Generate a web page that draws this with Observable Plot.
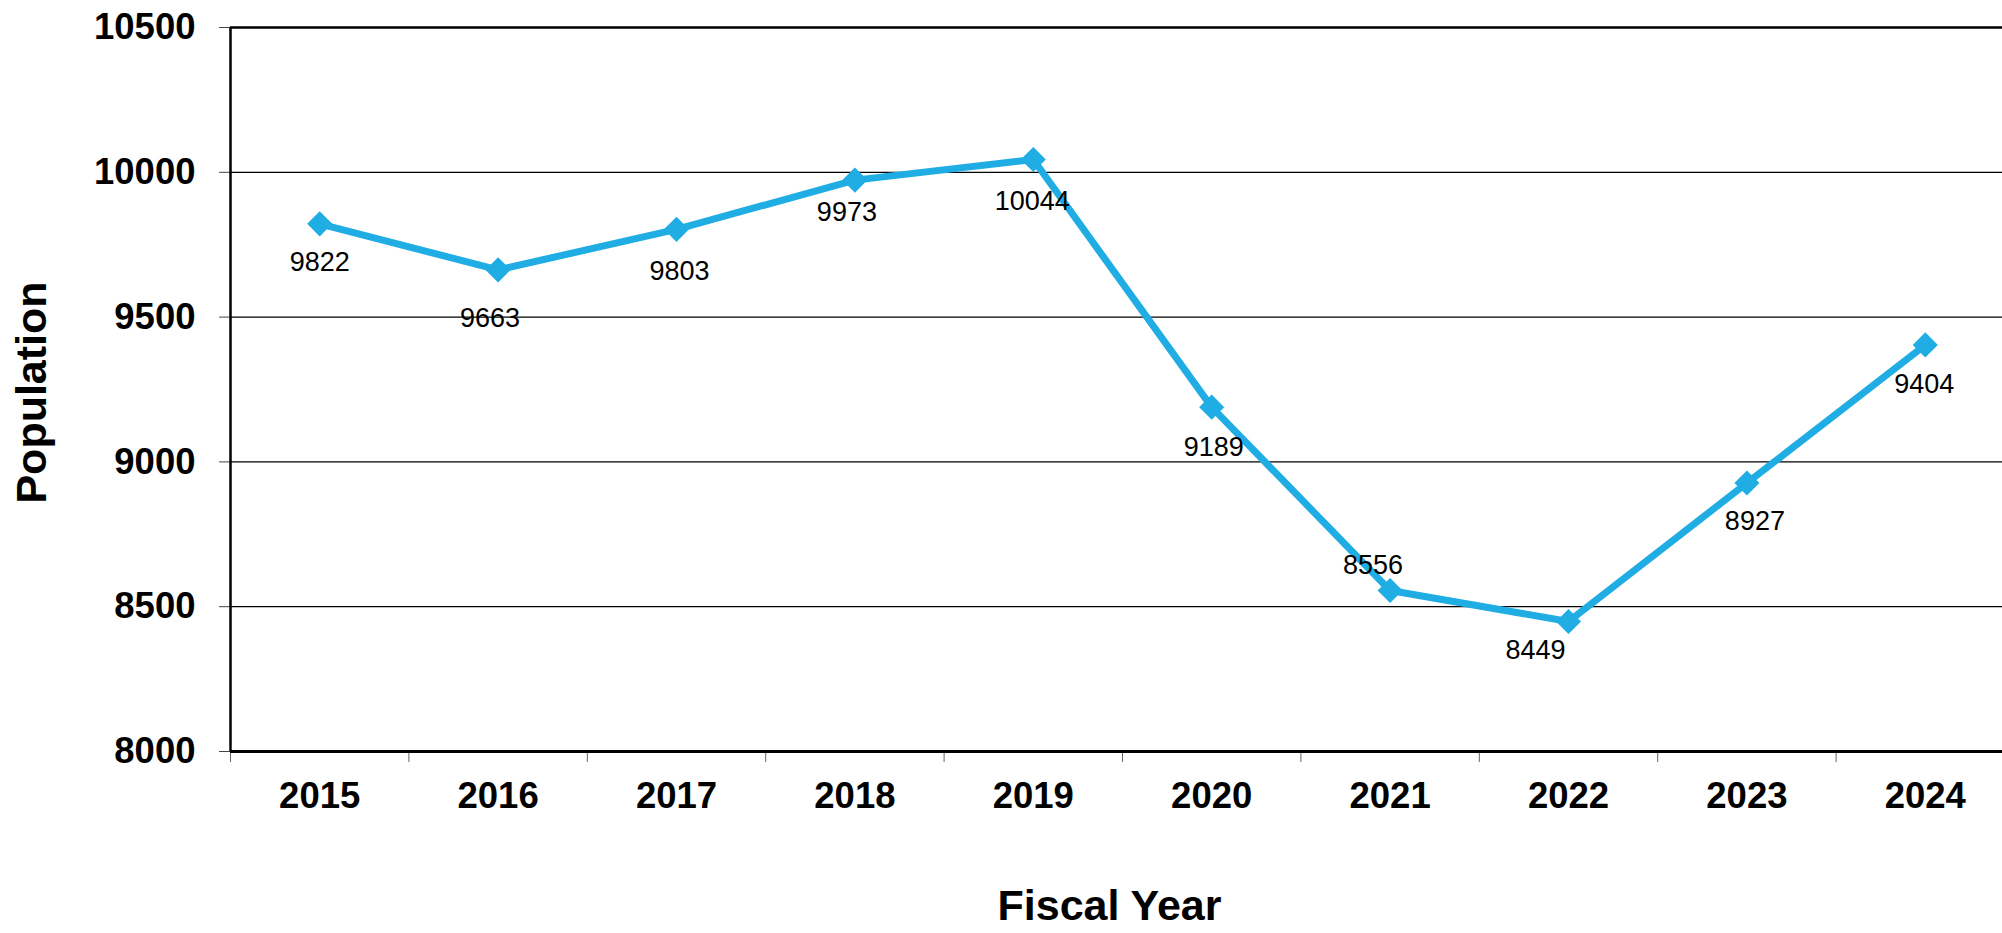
<!DOCTYPE html>
<html>
<head>
<meta charset="utf-8">
<script src="https://cdn.jsdelivr.net/npm/d3@7"></script>
<script src="https://cdn.jsdelivr.net/npm/@observablehq/plot@0.6"></script>
<style>
  html, body { margin: 0; padding: 0; background: #fff; }
  #chart svg { display: block; }
</style>
</head>
<body>
<div id="chart"></div>
<script>
// ---- Data ----
const years = [2015, 2016, 2017, 2018, 2019, 2020, 2021, 2022, 2023, 2024];
const population = [9822, 9663, 9803, 9973, 10044, 9189, 8556, 8449, 8927, 9404];
const yTicks = [8000, 8500, 9000, 9500, 10000, 10500];
// label offsets (pixels) relative to each point
const labelDx = [0, -8, 3, -8, -1, 2, -17, -33, 8, -1];
const labelDy = [39, 48, 42, 32, 42, 40, -25, 29, 38, 39];

const data = years.map((year, i) => ({year, value: population[i]}));
const boundaries = [years[0] - 0.5, ...years.map(y => y + 0.5)];
const lineColor = "#1FADE4";

const labelMarks = data.map((d, i) =>
  Plot.text([d], {
    x: "year", y: "value", text: d => String(d.value),
    dx: labelDx[i], dy: labelDy[i],
    fontSize: 27, fill: "#000"
  })
);

const chart = Plot.plot({
  width: 2002,
  height: 933,
  marginLeft: 230,
  marginRight: 0,
  marginTop: 27,
  marginBottom: 182,
  style: {fontFamily: "'Liberation Sans', Arial, sans-serif", background: "#fff", color: "#000"},
  x: {type: "linear", domain: [years[0] - 0.5, years[years.length - 1] + 0.5], range: [230, 2014]},
  y: {domain: [yTicks[0], yTicks[yTicks.length - 1]]},
  marks: [
    Plot.ruleY(yTicks.slice(1, -1), {stroke: "#000", strokeWidth: 1.2}),
    Plot.ruleY([yTicks[yTicks.length - 1]], {stroke: "#000", strokeWidth: 2.5}),
    Plot.axisY({ticks: yTicks, tickSize: 11, tickPadding: 24, tickFormat: d => String(d),
      fontSize: 36.5, fontWeight: "bold", stroke: "#444", label: null}),
    Plot.axisX({ticks: boundaries, tickSize: 11, tickFormat: () => "", stroke: "#666", label: null}),
    Plot.axisX({ticks: years, tickSize: 0, tickPadding: 31, tickFormat: d => String(d),
      fontSize: 36.5, fontWeight: "bold", label: null}),
    Plot.ruleY([yTicks[0]], {stroke: "#000", strokeWidth: 3}),
    Plot.ruleX([boundaries[0]], {stroke: "#000", strokeWidth: 2.5}),
    Plot.line(data, {x: "year", y: "value", stroke: lineColor, strokeWidth: 7, strokeLinejoin: "miter"}),
    Plot.dot(data, {x: "year", y: "value", symbol: "diamond2", r: 11.3, fill: lineColor, stroke: "none"}),
    ...labelMarks,
    Plot.text(["Fiscal Year"], {frameAnchor: "bottom", lineAnchor: "top", textAnchor: "middle", dx: -7, dy: 138,
      fontSize: 43, fontWeight: "bold", fill: "#000"}),
    Plot.text(["Population"], {frameAnchor: "left", rotate: -90, textAnchor: "middle", lineAnchor: "middle", dx: -198, dy: 3,
      fontSize: 43, fontWeight: "bold", fill: "#000"})
  ]
});
document.getElementById("chart").appendChild(chart);
</script>
</body>
</html>
